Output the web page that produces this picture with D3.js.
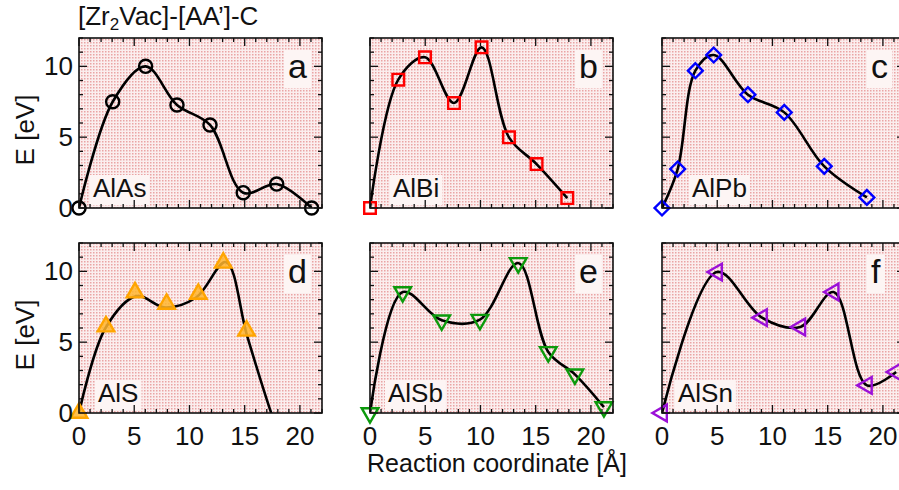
<!DOCTYPE html>
<html lang="en">
<head>
    <meta charset="UTF-8">
    <title>[Zr2Vac]-[AA']-C reaction paths</title>
    <script src="https://d3js.org/d3.v7.min.js"></script>
    <style>
        body { margin: 0; background: #fff; }
        svg { display: block; }
        text { font-family: "Liberation Sans", Arial, Helvetica, sans-serif; fill: #111; }
        .frame { fill: none; stroke: #111; stroke-width: 1.6px; }
        .tick { stroke: #111; stroke-width: 1.3px; }
        .path { fill: none; stroke: #000; stroke-width: 2.6px; }
    </style>
</head>
<body>
<svg id="chart" width="899" height="490"></svg>
<script>
    // ---- data ----
    const panelIds = ["a", "b", "c", "d", "e", "f"];
    const materials = ["AlAs", "AlBi", "AlPb", "AlS", "AlSb", "AlSn"];

    const xA = [0, 3.05, 6.03, 8.87, 11.86, 14.87, 17.9, 21.06];
    const eA = [0, 7.5, 10.0, 7.27, 5.86, 1.08, 1.69, 0];

    const xB = [0, 2.56, 4.98, 7.6, 10.1, 12.58, 15.08, 17.86];
    const eB = [0, 9.06, 10.64, 7.41, 11.34, 4.99, 3.1, 0.7];

    const xC = [0, 1.42, 3.02, 4.68, 7.78, 11.07, 14.69, 18.55];
    const eC = [0, 2.75, 9.69, 10.8, 8.0, 6.75, 2.94, 0.75];

    const xD = [0, 2.44, 5.07, 7.93, 10.8, 13.06, 15.17];
    const eD = [0, 6.1, 8.5, 7.7, 8.4, 10.6, 5.8];
    // the AlS curve is a fit and does not go through the markers
    const xDfit = [0, 2.4, 5.2, 7.8, 10.6, 13.3, 15.2, 17.4, 18.5];
    const eDfit = [0, 6.0, 8.25, 7.45, 8.15, 10.65, 5.5, 0, -2.4];

    const xE = [0, 2.96, 6.49, 9.95, 13.42, 16.14, 18.55, 21.18];
    const eE = [0, 8.54, 6.54, 6.59, 10.59, 4.31, 2.73, 0.42];

    const xF = [0, 4.98, 9.05, 12.52, 15.54, 18.55, 21.2];
    const eF = [0, 9.95, 6.73, 6.07, 8.54, 1.95, 2.9];

    const xTicks = [0, 5, 10, 15, 20];
    const yTicks = [0, 5, 10];

    // ---- layout ----
    const colLeft = [79, 370, 662];
    const rowTop = [38, 243];
    const pw = 243, ph = 170;
    const labelDx = [14, 23, 30, 19, 18, 16];

    const markerStyle = [
        {type: d3.symbolCircle, size: 135, rot: 0, stroke: "#000", fill: "none"},
        {type: d3.symbolSquare, size: 135, rot: 0, stroke: "#ff0000", fill: "none"},
        {type: d3.symbolSquare, size: 110, rot: 45, stroke: "#0000ff", fill: "none"},
        {type: d3.symbolTriangle, size: 120, rot: 0, stroke: "#ffa500", fill: "#ffb52e"},
        {type: d3.symbolTriangle, size: 120, rot: 180, stroke: "#0c9a0c", fill: "none"},
        {type: d3.symbolTriangle, size: 120, rot: -90, stroke: "#9b10d8", fill: "none"}
    ];

    const points = [[xA, eA], [xB, eB], [xC, eC], [xD, eD], [xE, eE], [xF, eF]];
    const curves = [[xA, eA], [xB, eB], [xC, eC], [xDfit, eDfit], [xE, eE], [xF, eF]];

    const svg = d3.select("#chart");
    const defs = svg.append("defs");

    const pat = defs.append("pattern")
        .attr("id", "dots")
        .attr("width", 3).attr("height", 3)
        .attr("patternUnits", "userSpaceOnUse");
    pat.append("rect").attr("width", 3).attr("height", 3).attr("fill", "#fbeeee");
    pat.append("rect").attr("width", 1.5).attr("height", 1.5).attr("fill", "#eaa4a4");

    panelIds.forEach((id, i) => {
        const col = i % 3, row = Math.floor(i / 3);
        const x0 = colLeft[col], y0 = rowTop[row];

        const x = d3.scaleLinear().domain([0, 22]).range([x0, x0 + pw]);
        const y = d3.scaleLinear().domain([0, 12]).range([y0 + ph, y0]);

        const g = svg.append("g");

        g.append("rect")
            .attr("x", x0).attr("y", y0)
            .attr("width", pw).attr("height", ph)
            .attr("fill", "url(#dots)");

        defs.append("clipPath").attr("id", "clip" + id)
            .append("rect")
            .attr("x", x0).attr("y", y0)
            .attr("width", pw).attr("height", ph);

        // label boxes
        const lab = g.append("text")
            .attr("x", x0 + labelDx[i])
            .attr("y", y0 + ph - 11)
            .attr("font-size", 26)
            .text(materials[i]);
        const lb = lab.node().getBBox();
        g.insert("rect", "text")
            .attr("x", lb.x - 3).attr("y", lb.y + 2)
            .attr("width", lb.width + 6).attr("height", lb.height)
            .attr("fill", "#fdf5f4");

        const let_ = g.append("text")
            .attr("x", x0 + pw - 34)
            .attr("y", y0 + 40)
            .attr("font-size", 34)
            .text(id);
        const bb = let_.node().getBBox();
        g.insert("rect", "text")
            .attr("x", bb.x - 4).attr("y", bb.y + 3)
            .attr("width", bb.width + 8).attr("height", bb.height)
            .attr("fill", "#fdf5f4");

        // ticks, inward on all four sides
        const tk = g.append("g");
        d3.range(0, 23).forEach(v => {
            const len = v % 5 === 0 ? 8 : 4;
            tk.append("line").attr("class", "tick")
                .attr("x1", x(v)).attr("x2", x(v))
                .attr("y1", y0 + ph).attr("y2", y0 + ph - len);
            tk.append("line").attr("class", "tick")
                .attr("x1", x(v)).attr("x2", x(v))
                .attr("y1", y0).attr("y2", y0 + len);
        });
        d3.range(0, 13).forEach(v => {
            const len = v % 5 === 0 ? 8 : 4;
            tk.append("line").attr("class", "tick")
                .attr("x1", x0).attr("x2", x0 + len)
                .attr("y1", y(v)).attr("y2", y(v));
            tk.append("line").attr("class", "tick")
                .attr("x1", x0 + pw).attr("x2", x0 + pw - len)
                .attr("y1", y(v)).attr("y2", y(v));
        });

        // curve
        const [cx, cy] = curves[i];
        const line = d3.line()
            .x(d => x(d[0])).y(d => y(d[1]))
            .curve(d3.curveCatmullRom.alpha(0.5));
        g.append("path")
            .attr("class", "path")
            .attr("clip-path", "url(#clip" + id + ")")
            .attr("d", line(d3.zip(cx, cy)));

        // markers
        const [px, py] = points[i];
        const m = markerStyle[i];
        g.append("g").selectAll("path")
            .data(d3.zip(px, py))
            .join("path")
            .attr("d", d3.symbol().type(m.type).size(m.size))
            .attr("transform", d => `translate(${x(d[0])},${y(d[1])}) rotate(${m.rot})`)
            .attr("fill", m.fill)
            .attr("fill-opacity", 0.85)
            .attr("stroke", m.stroke)
            .attr("stroke-width", 2.4);

        g.append("rect").attr("class", "frame")
            .attr("x", x0).attr("y", y0)
            .attr("width", pw).attr("height", ph);

        if (col === 0) {
            g.append("g").selectAll("text")
                .data(yTicks)
                .join("text")
                .attr("x", x0 - 6)
                .attr("y", d => y(d) + 9)
                .attr("text-anchor", "end")
                .attr("font-size", 26)
                .text(d => d);
            g.append("text")
                .attr("transform", `translate(${x0 - 54},${y0 + ph / 2 + 7}) rotate(-90)`)
                .attr("text-anchor", "middle")
                .attr("dominant-baseline", "central")
                .attr("font-size", 26)
                .text("E [eV]");
        }
        if (row === 1) {
            g.append("g").selectAll("text")
                .data(xTicks)
                .join("text")
                .attr("x", d => x(d))
                .attr("y", y0 + ph + 32)
                .attr("text-anchor", "middle")
                .attr("font-size", 26)
                .text(d => d);
        }
    });

    svg.append("text")
        .attr("x", 497)
        .attr("y", 472)
        .attr("text-anchor", "middle")
        .attr("font-size", 25)
        .text("Reaction coordinate [Å]");

    const title = svg.append("text")
        .attr("x", 78)
        .attr("y", 25)
        .attr("font-size", 26);
    title.append("tspan").text("[Zr");
    title.append("tspan").attr("font-size", 17).attr("dy", 5).text("2");
    title.append("tspan").attr("dy", -5).text("Vac]-[AA’]-C");
</script>
</body>
</html>
